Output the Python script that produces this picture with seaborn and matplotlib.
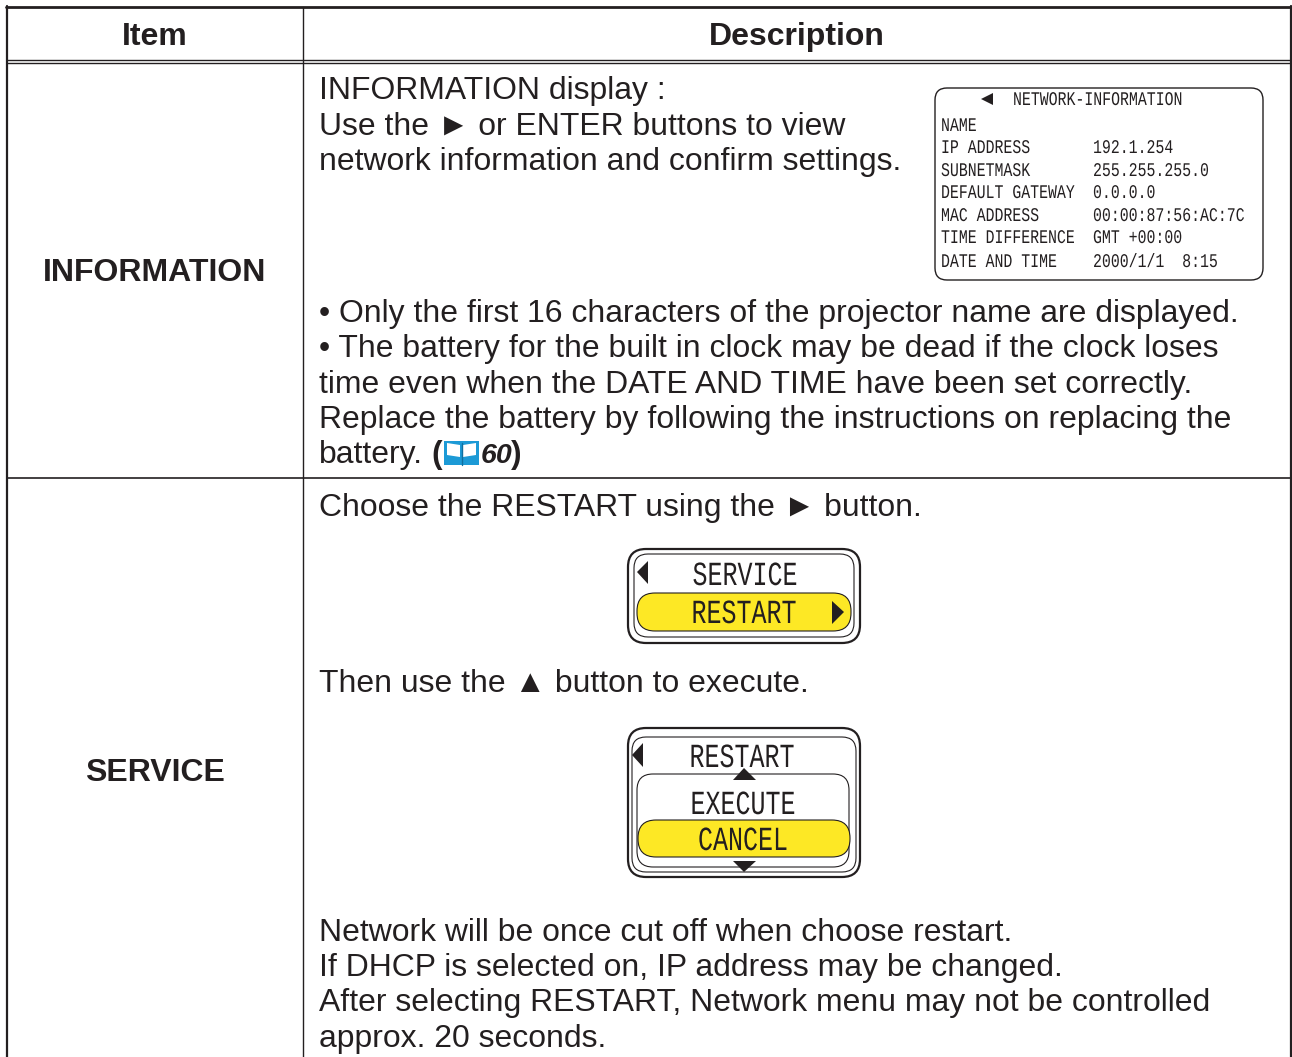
import matplotlib
matplotlib.use('Agg')
import matplotlib.pyplot as plt
from matplotlib.patches import FancyBboxPatch, Polygon, Rectangle
from matplotlib.patheffects import AbstractPathEffect
from matplotlib.transforms import Affine2D
import seaborn as sns

sns.set_theme(style='white')
plt.rcParams['font.family'] = ['Liberation Sans', 'DejaVu Sans']

INK = '#231f20'
YELLOW = '#fde825'
BLUE = '#1c9ad6'

# table text
headers = ['Item', 'Description']
items = ['INFORMATION', 'SERVICE']
info_top = ['INFORMATION display :',
            'Use the ► or ENTER buttons to view',
            'network information and confirm settings.']
info_notes = ['• Only the first 16 characters of the projector name are displayed.',
              '• The battery for the built in clock may be dead if the clock loses',
              'time even when the DATE AND TIME have been set correctly.',
              'Replace the battery by following the instructions on replacing the',
              'battery.']
service_first = 'Choose the RESTART using the ► button.'
service_second = 'Then use the ▲ button to execute.'
service_notes = ['Network will be once cut off when choose restart.',
                 'If DHCP is selected on, IP address may be changed.',
                 'After selecting RESTART, Network menu may not be controlled',
                 'approx. 20 seconds.']

# on screen menu text
net_title = 'NETWORK-INFORMATION'
net_labels = ['NAME', 'IP ADDRESS', 'SUBNETMASK', 'DEFAULT GATEWAY', 'MAC ADDRESS', 'TIME DIFFERENCE', 'DATE AND TIME']
net_values = ['', '192.1.254', '255.255.255.0', '0.0.0.0', '00:00:87:56:AC:7C', 'GMT +00:00', '2000/1/1  8:15']


class Tall(AbstractPathEffect):
    # the menu font is a tall narrow one, stretch the mono font to get close
    def __init__(self, sy):
        super().__init__()
        self.sy = sy

    def draw_path(self, renderer, gc, tpath, affine, rgbFace=None):
        renderer.draw_path(gc, tpath, Affine2D().scale(1, self.sy) + affine, rgbFace)


def box(ax, x0, y0, x1, y1, r, fc='none', lw=1.0):
    ax.add_patch(FancyBboxPatch((x0 + r, y0 + r), x1 - x0 - 2 * r, y1 - y0 - 2 * r,
                                boxstyle='round,pad=%f,rounding_size=%f' % (r, r),
                                fc=fc, ec=INK, lw=lw))


def tri(ax, pts):
    ax.add_patch(Polygon(pts, closed=True, fc=INK, ec='none'))


def menu_text(ax, x, y, s, size, sy, ha='left'):
    t = ax.text(x, y, s, ha=ha, va='baseline', fontsize=size, family='Liberation Mono', color=INK)
    t.set_path_effects([Tall(sy)])


fig = plt.figure(figsize=(12.92, 10.57), dpi=100)
ax = fig.add_axes([0, 0, 1, 1])
ax.set_xlim(0, 1292)
ax.set_ylim(1057, 0)
ax.axis('off')

# table rules
ax.plot([7, 7], [6, 1057], color=INK, lw=1.6)
ax.plot([1291, 1291], [6, 1057], color=INK, lw=1.6)
ax.plot([6, 1292], [7, 7], color=INK, lw=2.0)
ax.plot([7, 1291], [59.5, 59.5], color=INK, lw=1.0)
ax.plot([7, 1291], [62.5, 62.5], color=INK, lw=1.0)
ax.plot([7, 1291], [478, 478], color=INK, lw=1.2)
ax.plot([303, 303], [7, 1057], color=INK, lw=1.0)

BODY = 22.92
HEAD = 23.0
ax.text(155, 45, headers[0], ha='center', va='baseline', fontsize=HEAD, fontweight='bold', color=INK)
ax.text(797, 45, headers[1], ha='center', va='baseline', fontsize=HEAD, fontweight='bold', color=INK)
ax.text(155, 281, items[0], ha='center', va='baseline', fontsize=HEAD, fontweight='bold', color=INK)
ax.text(155, 781, items[1], ha='center', va='baseline', fontsize=HEAD, fontweight='bold', color=INK)

for y, line in zip([99, 135, 170], info_top):
    ax.text(319, y, line, va='baseline', fontsize=BODY, color=INK)
for y, line in zip([322, 357, 393, 428, 463], info_notes):
    ax.text(319, y, line, va='baseline', fontsize=BODY, color=INK)
ax.text(319, 516, service_first, va='baseline', fontsize=BODY, color=INK)
ax.text(319, 692, service_second, va='baseline', fontsize=BODY, color=INK)
for y, line in zip([941, 976, 1011, 1047], service_notes):
    ax.text(319, y, line, va='baseline', fontsize=BODY, color=INK)

# page reference with book icon
ax.text(431.5, 463, '(', va='baseline', fontsize=BODY, fontweight='bold', color=INK)
ax.add_patch(Rectangle((444, 441), 35, 24, fc=BLUE, ec='none'))
ax.add_patch(Polygon([(447, 443), (460, 445), (460, 457), (447, 455)], fc='white', ec='none'))
ax.add_patch(Polygon([(463, 445), (476, 443), (476, 455), (463, 457)], fc='white', ec='none'))
ax.plot([461.5, 461.5], [443, 465], color='#0f6f9f', lw=1.0)
ax.text(481, 463, '60', va='baseline', fontsize=20.5, fontweight='bold', style='italic', color=INK)
ax.text(510.5, 463, ')', va='baseline', fontsize=BODY, fontweight='bold', color=INK)

# network information panel
box(ax, 935, 88, 1263, 280, 12, lw=1.0)
tri(ax, [(981, 99), (993, 93), (993, 105)])
menu_text(ax, 1013, 105, net_title, 10.7, 1.3)
for y, lab, val in zip([131, 153, 176, 198, 221, 243, 267], net_labels, net_values):
    menu_text(ax, 941, y, lab, 10.7, 1.3)
    menu_text(ax, 1093, y, val, 10.7, 1.3)

# service menu
box(ax, 628, 549, 860, 643, 18, lw=1.6)
box(ax, 634, 554, 854, 637, 14, lw=0.8)
box(ax, 637, 593, 851, 631, 18, fc=YELLOW, lw=0.8)
tri(ax, [(637, 572), (648, 561), (648, 584)])
tri(ax, [(844, 612), (832, 601), (832, 624)])
menu_text(ax, 745, 585, 'SERVICE', 18, 1.35, ha='center')
menu_text(ax, 744, 623, 'RESTART', 18, 1.35, ha='center')

# restart menu
box(ax, 628, 728, 860, 877, 18, lw=1.6)
box(ax, 632, 737, 856, 872, 14, lw=0.8)
box(ax, 637, 774, 849, 867, 16, lw=0.8)
box(ax, 638, 820, 850, 857, 18, fc=YELLOW, lw=0.8)
tri(ax, [(632, 755), (643, 743), (643, 767)])
tri(ax, [(733, 780), (744, 768), (756, 780)])
tri(ax, [(733, 861), (756, 861), (744, 872)])
menu_text(ax, 742, 767, 'RESTART', 18, 1.35, ha='center')
menu_text(ax, 743, 814, 'EXECUTE', 18, 1.35, ha='center')
menu_text(ax, 743, 850, 'CANCEL', 18, 1.35, ha='center')

fig.savefig('out.png', dpi=100)
